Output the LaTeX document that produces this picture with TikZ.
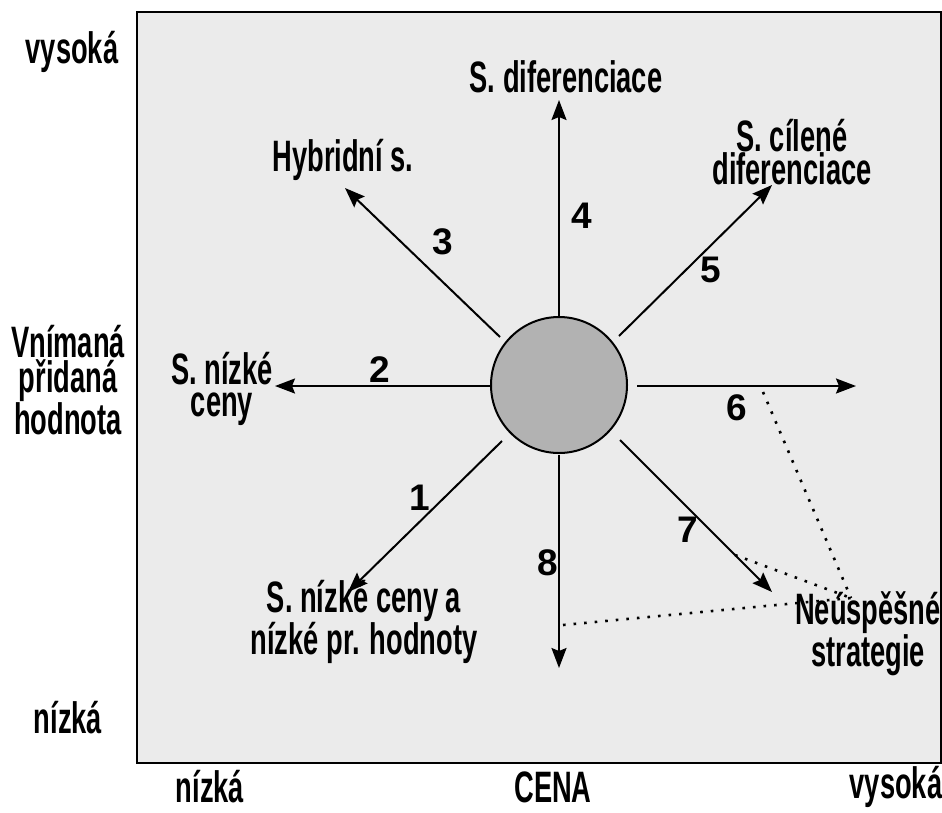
\documentclass[tikz,border=0pt]{standalone}
\usepackage{fontspec}
\setmainfont{Liberation Sans}
\newfontfamily\cond[FakeStretch=0.62]{Liberation Sans Bold}
\usetikzlibrary{arrows.meta}
\tikzset{
  lbl/.style={font=\cond\fontsize{44}{32}\selectfont, inner sep=0pt, align=center},
  num/.style={font=\bfseries\fontsize{37}{37}\selectfont, inner sep=0pt},
  arr/.style={line width=2pt, -{Stealth[length=20pt,width=15pt,inset=3pt]}},
  dots/.style={line width=2.6pt, dash pattern=on 2.6pt off 8pt},
}
\begin{document}
\begin{tikzpicture}[x=1pt,y=-1pt]
\useasboundingbox (0,0) rectangle (942,812);
\fill[white] (0,0) rectangle (942,812);
\draw[line width=2pt, fill=black!8] (137,12) rectangle (941,763);
\node[circle, draw, line width=2pt, fill=black!30, minimum size=136pt, inner sep=0pt] (c) at (559,385) {};
% arrow coordinates
\coordinate (s4) at (559,316); \coordinate (e4) at (559,100);
\coordinate (s8) at (559,455); \coordinate (e8) at (559,668);
\coordinate (s2) at (490,386); \coordinate (e2) at (275,386);
\coordinate (s6) at (637,386); \coordinate (e6) at (856,386);
\coordinate (s3) at (500,337); \coordinate (e3) at (345,188);
\coordinate (s5) at (619,336); \coordinate (e5) at (772,185);
\coordinate (s1) at (502,441); \coordinate (e1) at (348,592);
\coordinate (s7) at (620,440); \coordinate (e7) at (772,592);
\foreach \i in {1,...,8} { \draw[arr] (s\i) -- (e\i); }
% numbers
\node[num] (n4) at (582,216) {4};
\node[num] (n5) at (711,270) {5};
\node[num] (n3) at (443,242) {3};
\node[num] (n2) at (380,370) {2};
\node[num] (n6) at (737,408) {6};
\node[num] (n1) at (420,498) {1};
\node[num] (n7) at (688,530) {7};
\node[num] (n8) at (548,563) {8};
% labels
\node[lbl] (tdif) at (566,77) {S. diferenciace};
\node[lbl] (thyb) at (343,160) {Hybridní s.};
\node[lbl] (tcil) at (792,152) {S. cílené\\diferenciace};
\node[lbl] (tniz) at (222,389) {S. nízké\\ceny};
\node[lbl] (tnn) at (364,622) {S. nízké ceny a\\nízké pr. hodnoty};
\node[lbl] (tneu) at (868,634) {Neúspěšné\\strategie};
\node[lbl] (lvys) at (72,52) {vysoká};
\node[lbl] (lvn) at (68,380) {Vnímaná\\přidaná\\hodnota};
\node[lbl] (lniz) at (68,718) {nízká};
\node[lbl] (bniz) at (210,787) {nízká};
\node[lbl] (bcena) at (553,787) {CENA};
\node[lbl] (bvys) at (896,787) {vysoká};
% dotted lines
\coordinate (m) at (851,598);
\coordinate (d6) at (763,392);
\coordinate (d7) at (735,555);
\coordinate (d8) at (563,625);
\draw[dots] (d6) -- (m);
\draw[dots] (d7) -- (m);
\draw[dots] (d8) -- (m);
\end{tikzpicture}
\end{document}
